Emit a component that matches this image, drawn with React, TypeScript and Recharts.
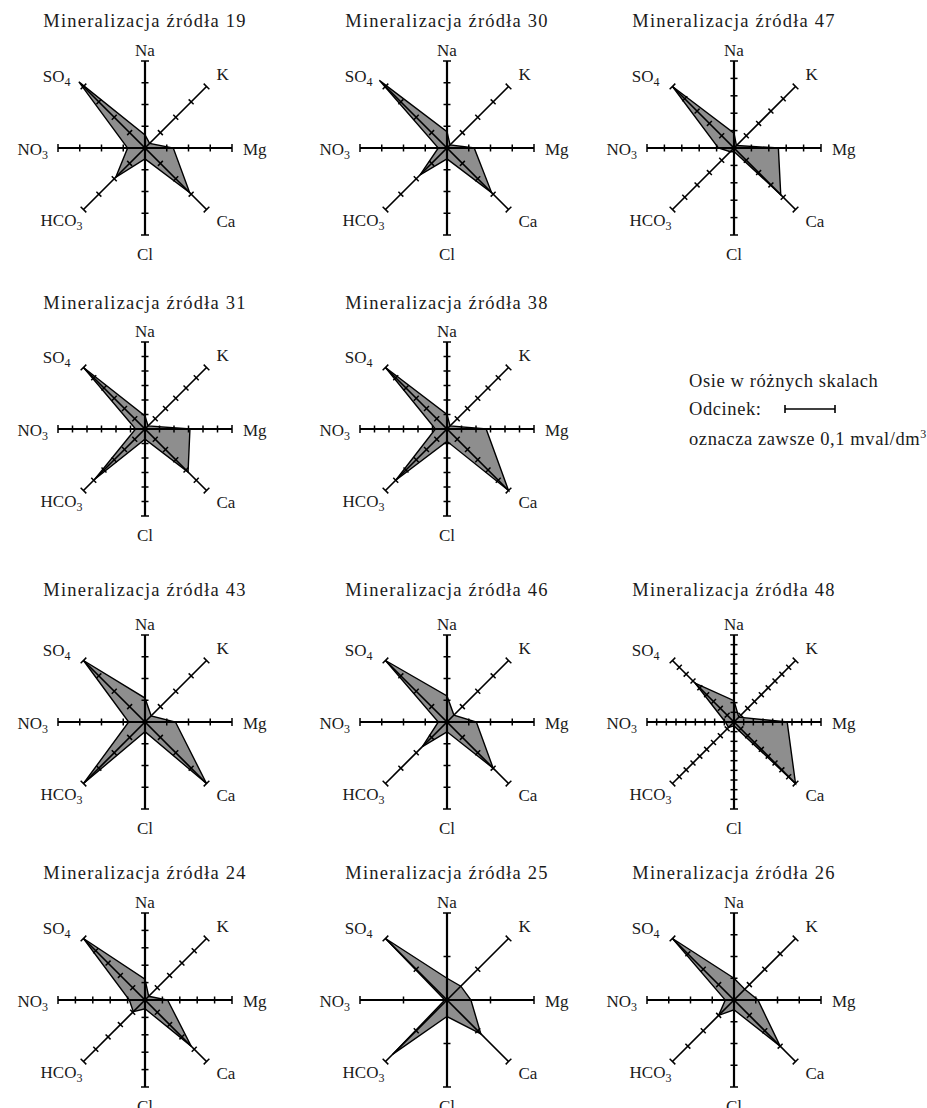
import React from 'react';
import { RadarChart, Radar, PolarAngleAxis, PolarRadiusAxis } from 'recharts';

// osie zgodnie z ruchem wskazówek zegara, od góry
const ions = ['Na', 'K', 'Mg', 'Ca', 'Cl', 'HCO3', 'NO3', 'SO4'];

// mval/dm3 (kolejność jak w ions)
const zrodlo19 = [0.06, 0.03, 0.13, 0.29, 0.05, 0.19, 0.08, 0.43];
const zrodlo30 = [0.075, 0.02, 0.125, 0.29, 0.05, 0.175, 0.04, 0.44];
const zrodlo47 = [0.085, 0.02, 0.255, 0.38, 0.02, 0.03, 0.09, 0.5];
const zrodlo31 = [0.09, 0.03, 0.31, 0.42, 0.07, 0.49, 0.065, 0.6];
const zrodlo38 = [0.1, 0.03, 0.27, 0.6, 0.085, 0.5, 0.08, 0.6];
const zrodlo43 = [0.11, 0.04, 0.14, 0.4, 0.045, 0.4, 0.075, 0.4];
const zrodlo46 = [0.12, 0.045, 0.135, 0.3, 0.045, 0.16, 0.04, 0.4];
const zrodlo48 = [0.22, 0.07, 0.55, 0.9, 0.04, 0.08, 0.09, 0.57];
const zrodlo24 = [0.12, 0.03, 0.13, 0.375, 0.05, 0.095, 0.09, 0.5];
const zrodlo25 = [0.05, 0.045, 0.055, 0.11, 0.038, 0.177, 0.005, 0.2];
const zrodlo26 = [0.1, 0.07, 0.11, 0.3, 0.045, 0.1, 0.04, 0.4];

const sourceNames = ['19', '30', '47', '31', '38', '43', '46', '48', '24', '25', '26'];
const sourceValues = [
  zrodlo19, zrodlo30, zrodlo47, zrodlo31, zrodlo38, zrodlo43,
  zrodlo46, zrodlo48, zrodlo24, zrodlo25, zrodlo26,
];
// liczba odcinków po 0,1 mval/dm3 na każdej osi
const axisSegments = [4, 4, 5, 6, 6, 4, 4, 9, 5, 2, 4];
const SEGMENT = 0.1;

// układ: wiersz / kolumna każdego wykresu
const slots = [
  [0, 0], [0, 1], [0, 2],
  [1, 0], [1, 1],
  [2, 0], [2, 1], [2, 2],
  [3, 0], [3, 1], [3, 2],
];
const colX = [145, 447, 734];
const rowY = [148, 429, 722, 1000];
const titleY = [27, 309, 596, 879];

const W = 300;
const H = 280;
const CX = 150;
const CY = 140;
const R = 87;
const SERIF = '"Liberation Serif", "DejaVu Serif", serif';

const labelPos = [
  { dx: 0, dy: -5, anchor: 'middle' },
  { dx: 10, dy: -6, anchor: 'start' },
  { dx: 11, dy: 7, anchor: 'start' },
  { dx: 10, dy: 17, anchor: 'start' },
  { dx: 0, dy: 25, anchor: 'middle' },
  { dx: -1, dy: 16, anchor: 'end' },
  { dx: -10, dy: 7, anchor: 'end' },
  { dx: -13, dy: -4, anchor: 'end' },
];

const IonLabel = ({ name, x, y, anchor }: any) => {
  const m = String(name).match(/^(\D+)(\d)$/);
  return (
    <text x={x} y={y} textAnchor={anchor} fontFamily={SERIF} fontSize={17} fill="#1a1a1a">
      {m ? (
        <>
          {m[1]}
          <tspan fontSize={12} dy={4}>{m[2]}</tspan>
        </>
      ) : (
        name
      )}
    </text>
  );
};

const makeSpoke = (segments: number) => (props: any) => {
  const { payload, index } = props;
  const angle = typeof payload?.coordinate === 'number' ? payload.coordinate : 90 - index * 45;
  const rad = (angle * Math.PI) / 180;
  const ux = Math.cos(rad);
  const uy = -Math.sin(rad);
  const px = -uy;
  const py = ux;
  const ex = CX + R * ux;
  const ey = CY + R * uy;
  const straight = index % 2 === 0;
  const ticks = [];
  for (let i = 1; i <= segments; i++) {
    const r = (R * i) / segments;
    const x = CX + r * ux;
    const y = CY + r * uy;
    const h = i === segments ? 4 : 3.5;
    ticks.push(
      <line key={i} x1={x - px * h} y1={y - py * h} x2={x + px * h} y2={y + py * h} stroke="#000" strokeWidth={1.5} />
    );
  }
  const lp = labelPos[index % 8];
  return (
    <g>
      <line x1={CX} y1={CY} x2={ex} y2={ey} stroke="#000" strokeWidth={straight ? 2.2 : 1.7} />
      {ticks}
      <IonLabel name={payload.value} x={ex + lp.dx} y={ey + lp.dy} anchor={lp.anchor} />
    </g>
  );
};

const Mineral = ({ values, segments }: { values: number[]; segments: number }) => {
  // każda oś kończy się na segments * 0,1 mval/dm3 -> udział długości osi
  const axisMax = segments * SEGMENT;
  const data = ions.map((ion, i) => ({ ion, v: values[i] / axisMax }));
  return (
    <RadarChart
      width={W}
      height={H}
      cx={CX}
      cy={CY}
      outerRadius={R}
      data={data}
      startAngle={90}
      endAngle={-270}
      margin={{ top: 0, right: 0, bottom: 0, left: 0 }}
    >
      <PolarRadiusAxis type="number" domain={[0, 1]} allowDataOverflow tick={false} axisLine={false} />
      <Radar
        dataKey="v"
        stroke="#000"
        strokeWidth={1.4}
        fill="#8e8e8e"
        fillOpacity={1}
        dot={false}
        isAnimationActive={false}
      />
      <PolarAngleAxis dataKey="ion" axisLine={false} tickLine={false} tick={makeSpoke(segments)} />
    </RadarChart>
  );
};

export default function App() {
  return (
    <div
      style={{
        position: 'absolute',
        left: 0,
        top: 0,
        width: 927,
        height: 1108,
        overflow: 'hidden',
        background: '#fff',
      }}
    >
      {sourceNames.map((nr, i) => {
        const [row, col] = slots[i];
        return (
          <div
            key={nr}
            style={{ position: 'absolute', left: colX[col] - CX, top: rowY[row] - CY, width: W, height: H }}
          >
            <Mineral values={sourceValues[i]} segments={axisSegments[i]} />
          </div>
        );
      })}
      <svg width={927} height={1108} style={{ position: 'absolute', left: 0, top: 0, pointerEvents: 'none' }}>
        {sourceNames.map((nr, i) => {
          const [row, col] = slots[i];
          return (
            <text
              key={nr}
              x={colX[col]}
              y={titleY[row]}
              textAnchor="middle"
              fontFamily={SERIF}
              fontSize={18.5}
              letterSpacing={1.2}
              fill="#1a1a1a"
            >
              {`Mineralizacja źródła ${nr}`}
            </text>
          );
        })}
        <g fontFamily={SERIF} fontSize={18.5} letterSpacing={0.6} fill="#1a1a1a">
          <text x={689} y={387}>Osie w różnych skalach</text>
          <text x={689} y={415}>Odcinek:</text>
          <text x={689} y={445}>
            oznacza zawsze 0,1 mval/dm
            <tspan fontSize={12} dy={-7}>3</tspan>
          </text>
        </g>
        <g stroke="#000" strokeWidth={1.6}>
          <line x1={785} y1={409} x2={835} y2={409} />
          <line x1={785} y1={405} x2={785} y2={413} />
          <line x1={835} y1={405} x2={835} y2={413} />
        </g>
      </svg>
    </div>
  );
}
